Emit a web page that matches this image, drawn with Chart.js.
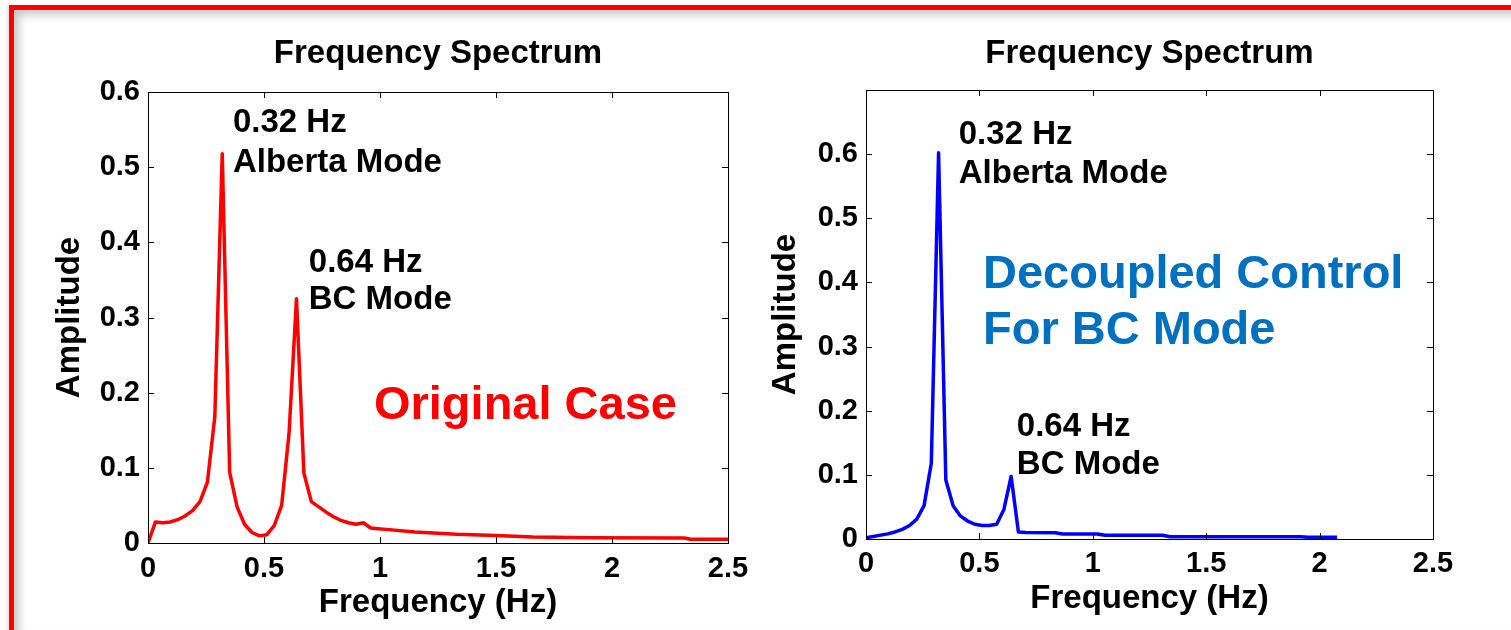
<!DOCTYPE html>
<html>
<head>
<meta charset="utf-8">
<script src="https://cdn.jsdelivr.net/npm/chart.js@4.4.1/dist/chart.umd.min.js"></script>
<style>
  body { margin: 0; background: #fff; width: 1511px; height: 630px; overflow: hidden; position: relative; }
  canvas { position: absolute; top: 0; }
  #izq { left: 0; }
  #der { left: 760px; }
  .marco {
    position: absolute; left: 9px; top: 5px; width: 1520px; height: 623px;
    border-top: 5px solid #ff0000; border-left: 5px solid #ff0000;
    border-bottom: 1px solid #f07878;
    box-shadow: inset 5px 5px 9px rgba(0,0,0,0.22), -2px 0 3px rgba(0,0,0,0.12);
    pointer-events: none;
  }
</style>
</head>
<body>
<canvas id="izq" width="760" height="630"></canvas>
<canvas id="der" width="751" height="630"></canvas>
<div class="marco"></div>
<script>
// espectro caso original (rojo)
const freqOriginal = [0, 0.032, 0.064, 0.096, 0.128, 0.16, 0.192, 0.224, 0.256, 0.288, 0.32, 0.352, 0.384, 0.416, 0.448, 0.48, 0.512, 0.544, 0.576, 0.608, 0.64, 0.672, 0.704, 0.736, 0.768, 0.8, 0.832, 0.864, 0.896, 0.928, 0.96, 0.992, 1.04, 1.15, 1.33, 1.47, 1.66, 1.91, 2.31, 2.34, 2.5]
const ampOriginal = [0, 0.028, 0.027, 0.028, 0.031, 0.036, 0.043, 0.055, 0.081, 0.168, 0.518, 0.094, 0.048, 0.025, 0.014, 0.0095, 0.011, 0.023, 0.05, 0.146, 0.325, 0.093, 0.055, 0.048, 0.041, 0.035, 0.03, 0.027, 0.025, 0.027, 0.02, 0.019, 0.0178, 0.0147, 0.0116, 0.0102, 0.008, 0.0071, 0.0067, 0.0049, 0.0049]

// espectro con control desacoplado (azul)
const freqDecoupled = [0, 0.032, 0.064, 0.096, 0.128, 0.16, 0.192, 0.224, 0.256, 0.288, 0.32, 0.352, 0.384, 0.416, 0.448, 0.48, 0.512, 0.544, 0.576, 0.608, 0.64, 0.672, 0.704, 0.834, 0.868, 1.02, 1.054, 1.307, 1.341, 1.916, 1.95, 2.077]
const ampDecoupled = [0.002, 0.004, 0.006, 0.008, 0.011, 0.015, 0.021, 0.031, 0.052, 0.118, 0.602, 0.092, 0.052, 0.036, 0.028, 0.023, 0.021, 0.021, 0.023, 0.046, 0.0975, 0.011, 0.0103, 0.0098, 0.0077, 0.0077, 0.0057, 0.0057, 0.0036, 0.0036, 0.0026, 0.0026]

const xTickLabels = ['0', '0.5', '1', '1.5', '2', '2.5']
const yTickLabelsIzq = ['0', '0.1', '0.2', '0.3', '0.4', '0.5', '0.6']
const yTickLabelsDer = ['0', '0.1', '0.2', '0.3', '0.4', '0.5', '0.6', '']

const FUENTE = "'Liberation Sans', Arial, sans-serif"

/* caja estilo matlab con ticks hacia adentro */
const cajaPlugin = {
    id: 'caja',
    afterDatasetsDraw(chart) {
        const {ctx, chartArea: a, scales} = chart
        ctx.save()
        ctx.strokeStyle = '#000'
        ctx.lineWidth = 1
        ctx.strokeRect(Math.round(a.left) + 0.5, Math.round(a.top) + 0.5, Math.round(a.right - a.left), Math.round(a.bottom - a.top))
        ctx.beginPath()
        scales.x.ticks.forEach(t => {
            const px = Math.round(scales.x.getPixelForValue(t.value)) + 0.5
            ctx.moveTo(px, a.bottom); ctx.lineTo(px, a.bottom - 6)
            ctx.moveTo(px, a.top); ctx.lineTo(px, a.top + 6)
        })
        scales.y.ticks.forEach(t => {
            const py = Math.round(scales.y.getPixelForValue(t.value)) + 0.5
            ctx.moveTo(a.left, py); ctx.lineTo(a.left + 6, py)
            ctx.moveTo(a.right, py); ctx.lineTo(a.right - 6, py)
        })
        ctx.stroke()
        ctx.restore()
    }
}

/* textos sobre el grafico, en coordenadas de datos */
const notasPlugin = {
    id: 'notas',
    afterDraw(chart, args, opts) {
        const {ctx, scales} = chart
        ctx.save()
        ctx.textAlign = 'left'
        ctx.textBaseline = 'alphabetic'
        ;(opts.items || []).forEach(n => {
            ctx.font = 'bold ' + n.size + 'px ' + FUENTE
            ctx.fillStyle = n.color
            ctx.fillText(n.text, scales.x.getPixelForValue(n.x), scales.y.getPixelForValue(n.y))
        })
        ctx.restore()
    }
}

const puntos = (xs, ys) => xs.map((x, i) => ({x: x, y: ys[i]}))

const crearGrafico = (id, cfg) => {
    return new Chart(document.getElementById(id), {
        type: 'line',
        data: {
            datasets: [{
                data: puntos(cfg.freq, cfg.amp),
                borderColor: cfg.color,
                borderWidth: 3.5,
                pointRadius: 0,
                tension: 0,
                borderJoinStyle: 'round',
                fill: false
            }]
        },
        options: {
            responsive: false,
            animation: false,
            devicePixelRatio: 1,
            events: [],
            layout: { padding: { left: 0, right: cfg.padRight, top: 0, bottom: 0 } },
            plugins: {
                legend: { display: false },
                tooltip: { enabled: false },
                title: {
                    display: true,
                    text: 'Frequency Spectrum',
                    color: '#000',
                    fullSize: false,
                    font: { family: FUENTE, size: 33, weight: 'bold' },
                    padding: { top: 34.2, bottom: cfg.titleBottom }
                },
                notas: { items: cfg.notas }
            },
            scales: {
                x: {
                    type: 'linear',
                    min: 0, max: 2.5,
                    grid: { display: false, drawTicks: false },
                    border: { display: false },
                    afterFit: s => { s.height = cfg.xHeight },
                    ticks: {
                        stepSize: 0.5,
                        padding: cfg.xTickPad,
                        color: '#000',
                        font: { family: FUENTE, size: 29, weight: 'bold' },
                        maxRotation: 0,
                        callback: (v, i) => xTickLabels[i]
                    },
                    title: {
                        display: true,
                        text: 'Frequency (Hz)',
                        color: '#000',
                        font: { family: FUENTE, size: 33, weight: 'bold' },
                        padding: { top: 0, bottom: cfg.xTitlePad }
                    }
                },
                y: {
                    type: 'linear',
                    min: 0, max: cfg.yMax,
                    grid: { display: false, drawTicks: false },
                    border: { display: false },
                    afterFit: s => { s.width = cfg.yWidth },
                    ticks: {
                        stepSize: 0.1,
                        padding: 8,
                        color: '#000',
                        font: { family: FUENTE, size: 29, weight: 'bold' },
                        callback: (v, i) => cfg.yLabels[i]
                    },
                    title: {
                        display: true,
                        text: 'Amplitude',
                        color: '#000',
                        font: { family: FUENTE, size: 33, weight: 'bold' },
                        padding: { top: cfg.yTitlePad, bottom: 0 }
                    }
                }
            }
        },
        plugins: [cajaPlugin, notasPlugin]
    })
}

crearGrafico('izq', {
    freq: freqOriginal, amp: ampOriginal, color: '#ff0000',
    yMax: 0.6, yLabels: yTickLabelsIzq,
    padRight: 32, titleBottom: 18.2, xHeight: 87, yWidth: 148,
    xTickPad: 9, xTitlePad: 7.7, yTitlePad: 50,
    notas: [
        { text: '0.32 Hz', x: 0.366, y: 0.547, size: 33, color: '#000' },
        { text: 'Alberta Mode', x: 0.366, y: 0.494, size: 33, color: '#000' },
        { text: '0.64 Hz', x: 0.693, y: 0.361, size: 33, color: '#000' },
        { text: 'BC Mode', x: 0.693, y: 0.311, size: 33, color: '#000' },
        { text: 'Original Case', x: 0.974, y: 0.165, size: 47, color: '#ff0000' }
    ]
})

crearGrafico('der', {
    freq: freqDecoupled, amp: ampDecoupled, color: '#0000ff',
    yMax: 0.7, yLabels: yTickLabelsDer,
    padRight: 78, titleBottom: 16.2, xHeight: 91, yWidth: 106,
    xTickPad: 7.3, xTitlePad: 11.2, yTitlePad: 6,
    notas: [
        { text: '0.32 Hz', x: 0.409, y: 0.616, size: 33, color: '#000' },
        { text: 'Alberta Mode', x: 0.409, y: 0.5555, size: 33, color: '#000' },
        { text: '0.64 Hz', x: 0.665, y: 0.160, size: 33, color: '#000' },
        { text: 'BC Mode', x: 0.665, y: 0.1006, size: 33, color: '#000' },
        { text: 'Decoupled Control', x: 0.516, y: 0.391, size: 47, color: '#0070c0' },
        { text: 'For BC Mode', x: 0.516, y: 0.3033, size: 47, color: '#0070c0' }
    ]
})
</script>
</body>
</html>
